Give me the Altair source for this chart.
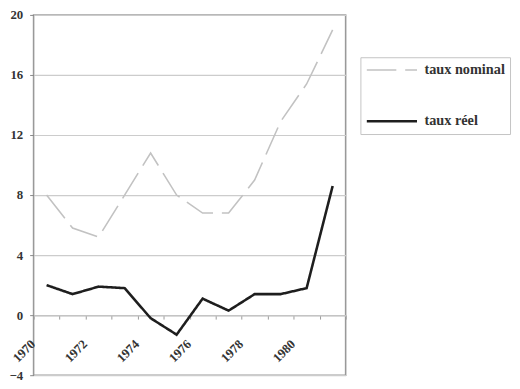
import altair as alt
import pandas as pd

years = [1970, 1971, 1972, 1973, 1974, 1975, 1976, 1977, 1978, 1979, 1980, 1981]
taux_nominal = [8.0, 5.8, 5.2, 8.0, 10.8, 8.0, 6.8, 6.8, 9.0, 12.9, 15.4, 19.0]
taux_reel = [2.0, 1.4, 1.9, 1.8, -0.2, -1.3, 1.1, 0.3, 1.4, 1.4, 1.8, 8.6]
series_names = ["taux nominal", "taux réel"]
y_ticks = [-4, 0, 4, 8, 12, 16, 20]

rows = []
for name, vals in zip(series_names, [taux_nominal, taux_reel]):
    for yr, v in zip(years, vals):
        rows.append({"annee": yr, "valeur": v, "serie": name})
df = pd.DataFrame(rows)

FONT = "Liberation Serif, Times New Roman, serif"

leg = alt.Legend(
    title=None,
    orient="none",
    legendX=332,
    legendY=43,
    symbolType="stroke",
    symbolSize=2600,
    clipHeight=16,
    strokeColor="#c4c4c4",
    padding=5,
    rowPadding=36,
    labelFont=FONT,
    labelFontWeight="bold",
    labelFontSize=14.5,
    labelColor="#333333",
    labelOffset=6,
    fillColor="white",
)

chart = (
    alt.Chart(df)
    .mark_line()
    .encode(
        x=alt.X(
            "annee:O",
            scale=alt.Scale(type="band", paddingInner=0, paddingOuter=0),
            axis=alt.Axis(
                title=None,
                offset=-61,
                tickBand="extent",
                labelExpr="datum.value % 2 == 0 ? datum.label : ''",
                labelAngle=315,
                labelAlign="right",
                labelBaseline="middle",
                labelPadding=23,
                labelOffset=-14,
                labelFont=FONT,
                labelFontWeight="bold",
                labelFontSize=13,
                labelColor="#333333",
                labelOverlap=False,
                domainColor="#c4c4c4",
                domainWidth=1.5,
                tickColor="#9a9a9a",
                tickSize=4,
                grid=False,
            ),
        ),
        y=alt.Y(
            "valeur:Q",
            scale=alt.Scale(domain=[-4, 20], nice=False, zero=False),
            axis=alt.Axis(
                title=None,
                values=y_ticks,
                grid=True,
                gridColor="#cccccc",
                gridWidth=1.2,
                domain=False,
                tickColor="#888888",
                tickSize=4,
                labelPadding=7,
                labelFont=FONT,
                labelFontWeight="bold",
                labelFontSize=13,
                labelColor="#333333",
            ),
        ),
        color=alt.Color(
            "serie:N",
            scale=alt.Scale(domain=series_names, range=["#c2c2c2", "#1e1e1e"]),
            legend=leg,
        ),
        strokeDash=alt.StrokeDash(
            "serie:N",
            scale=alt.Scale(domain=series_names, range=[[30, 9], [1, 0]]),
            legend=leg,
        ),
        strokeWidth=alt.StrokeWidth(
            "serie:N",
            scale=alt.Scale(domain=series_names, range=[1.6, 2.6]),
            legend=leg,
        ),
    )
    .properties(
        width=317,
        height=366,
        padding={"left": 26, "top": 4, "right": 169, "bottom": 11},
        autosize=alt.AutoSizeParams(type="none"),
    )
    .configure_view(stroke="#999999", strokeWidth=1.6)
)

chart.save("out.html", embed_options={"renderer": "svg", "actions": False})
